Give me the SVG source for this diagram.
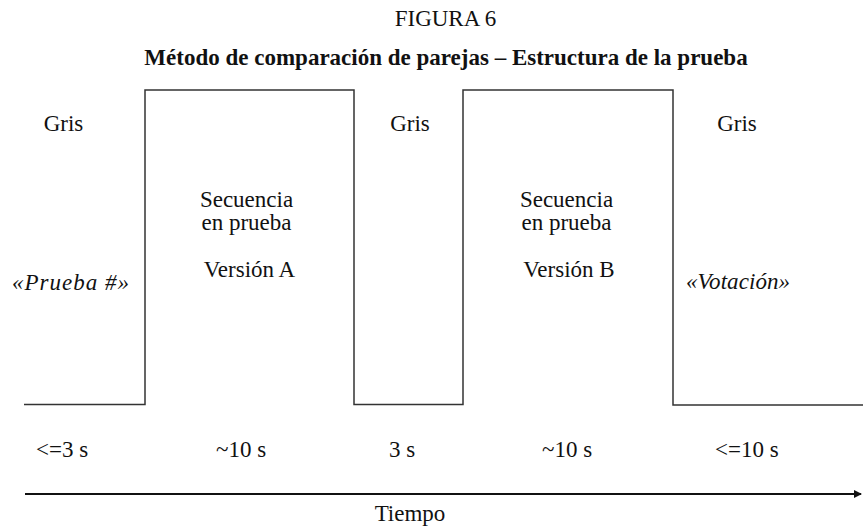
<svg xmlns="http://www.w3.org/2000/svg" width="863" height="527" viewBox="0 0 863 527">
<defs>
<marker id="arr" markerWidth="8" markerHeight="8" refX="7" refY="4" orient="auto" markerUnits="userSpaceOnUse">
<path d="M0,0 L8,4 L0,8 z" fill="#111"/>
</marker>
</defs>
<style>
text{font-family:"Liberation Serif","Times New Roman",serif;fill:#111;font-size:23px}
.c{text-anchor:middle}
.i{font-style:italic}
.w{fill:none;stroke:#333;stroke-width:1.5}
</style>
<rect width="863" height="527" fill="#fff"/>
<g id="title">
<text class="c" x="445.5" y="26" font-size="22">FIGURA 6</text>
<text class="c" x="446" y="65" font-weight="bold" font-size="24">Método de comparación de parejas – Estructura de la prueba</text>
</g>
<g id="connectors">
<polyline class="w" points="24,404.5 145,404.5 145,90 354,90 354,404.5 463,404.5 463,90 673,90 673,405 863,405"/>
<line x1="25" y1="494" x2="861" y2="494" stroke="#111" stroke-width="2" marker-end="url(#arr)"/>
</g>
<g id="gris1"><text class="c" x="63.5" y="131" font-size="24">Gris</text></g>
<g id="gris2"><text class="c" x="410" y="131" font-size="24">Gris</text></g>
<g id="gris3"><text class="c" x="737" y="131" font-size="24">Gris</text></g>
<g id="seqA">
<text class="c" x="246.5" y="207">Secuencia</text>
<text class="c" x="246.5" y="230">en prueba</text>
<text class="c" x="249.5" y="277">Versión A</text>
</g>
<g id="seqB">
<text class="c" x="566.5" y="207">Secuencia</text>
<text class="c" x="566.5" y="230">en prueba</text>
<text class="c" x="569" y="277">Versión B</text>
</g>
<g id="prueba"><text class="i" x="12" y="290" textLength="117" lengthAdjust="spacing">«Prueba #»</text></g>
<g id="votacion"><text class="i" x="686" y="289" textLength="104" lengthAdjust="spacing">«Votación»</text></g>
<g id="times">
<text x="36" y="457">&lt;=3 s</text>
<text x="216" y="457">~10 s</text>
<text x="389" y="457">3 s</text>
<text x="542" y="457">~10 s</text>
<text x="715" y="457">&lt;=10 s</text>
</g>
<g id="tiempo"><text class="c" x="410" y="521">Tiempo</text></g>
</svg>
